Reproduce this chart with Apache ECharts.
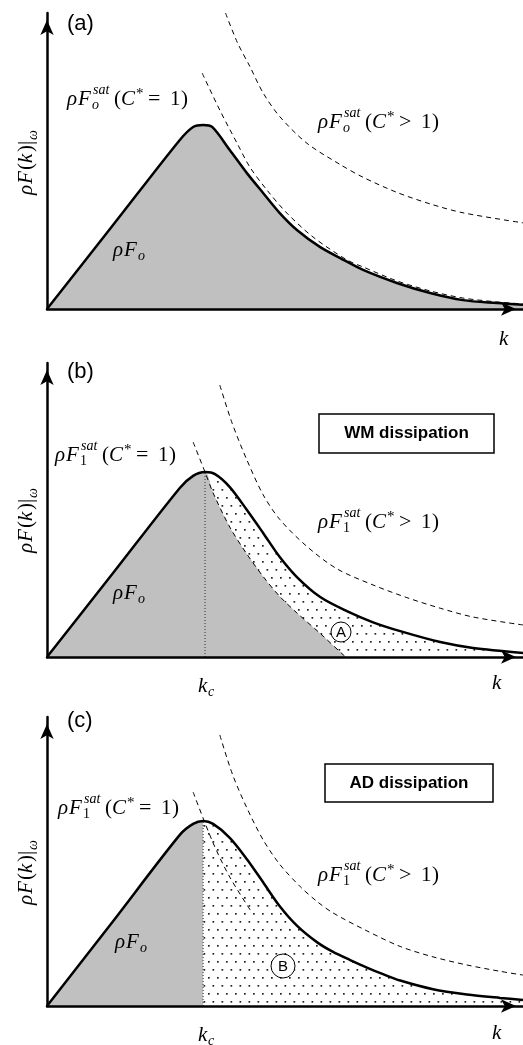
<!DOCTYPE html>
<html lang="en">
<head>
<meta charset="UTF-8" />
<title>Saturated spectra</title>
<style>html,body{margin:0;padding:0;background:#fff}#main{width:523px;height:1045px}</style>
</head>
<body>
<div id="main"></div>
<script src="https://cdn.jsdelivr.net/npm/echarts@6/dist/echarts.min.js"></script>
<script>
// k axis 0..10, rho F axis 0..10 (arbitrary units, schematic)
// panel (a)
const mainA = [[0,0],[1.4,2.86],[2.79,5.71],[3.07,6.15],[3.28,6.22],[3.47,6.15],[3.84,5.37],[4.20,4.59],[4.54,3.92],[4.89,3.24],[5.25,2.67],[5.74,2.09],[6.16,1.72],[6.64,1.32],[7.35,0.88],[8.05,0.54],[8.74,0.30],[9.45,0.20],[10,0.14]]
const satA1 = [[3.26,7.97],[3.63,6.72],[3.99,5.61],[4.26,4.80],[4.62,4.02],[5.04,3.24],[5.59,2.43],[6.30,1.66],[6.64,1.42],[7.35,0.95],[8.05,0.61],[8.74,0.37],[9.45,0.24],[10,0.17]]
const satA2 = [[3.75,10.0],[4.0,9.0],[4.26,8.2],[4.54,7.3],[4.89,6.5],[5.46,5.6],[6.16,4.88],[6.64,4.45],[7.35,3.94],[8.05,3.55],[8.74,3.25],[10,2.91]]
// panel (b)
const KC_B = 3.32
const mainB = [[0,0],[1.4,2.88],[2.79,5.75],[3.07,6.16],[3.32,6.29],[3.53,6.22],[3.84,5.78],[4.20,5.0],[4.54,4.22],[4.89,3.40],[5.25,2.72],[5.74,2.04],[6.30,1.56],[6.85,1.18],[7.42,0.88],[8.26,0.51],[8.95,0.31],[10,0.14]]
const satB1 = [[3.07,7.31],[3.32,6.29],[3.49,5.58],[3.84,4.42],[4.20,3.50],[4.54,2.74],[4.89,2.06],[5.25,1.50],[5.74,0.80],[6.22,0.08],[6.28,0]]
const satB2 = [[3.63,9.25],[3.89,7.95],[4.20,6.7],[4.54,5.52],[4.89,4.68],[5.46,3.76],[6.09,3.0],[6.85,2.45],[7.56,2.02],[8.26,1.66],[8.95,1.36],[10,1.09]]
// panel (c)
const KC_C = 3.28
const mainC = [[0,0],[1.4,2.96],[2.79,5.92],[3.07,6.30],[3.28,6.40],[3.49,6.30],[3.84,5.82],[4.20,5.08],[4.54,4.28],[4.89,3.45],[5.25,2.78],[5.67,2.21],[6.01,1.87],[6.37,1.59],[6.72,1.33],[7.06,1.10],[7.42,0.88],[8.11,0.58],[8.82,0.40],[9.52,0.28],[10,0.21]]
const satC1 = [[3.07,7.40],[3.49,5.64],[3.84,4.46],[4.31,3.22]]
const satC2 = [[3.63,9.38],[3.9,8.0],[4.20,6.85],[4.54,5.75],[4.89,4.9],[5.32,4.13],[5.67,3.62],[6.01,3.22],[6.72,2.6],[7.42,2.06],[8.11,1.7],[8.82,1.42],[9.52,1.2],[10,1.07]]

const GRAY = '#c0c0c0'
const grids = [
  { left: 47, top: 13, width: 476, height: 296 },
  { left: 47, top: 363, width: 476, height: 294 },
  { left: 47, top: 717, width: 476, height: 289 }
]

// dotted fill pattern
function dots() {
  const c = document.createElement('canvas')
  c.width = 9; c.height = 16
  const g = c.getContext('2d')
  g.fillStyle = '#222'
  g.fillRect(1, 1, 1.7, 1.7)
  g.fillRect(5.5, 9, 1.7, 1.7)
  return c
}
const DOTS = { image: dots(), repeat: 'repeat' }

const axisLine = { onZero: false, lineStyle: { color: '#000', width: 2.5 }, symbol: ['none', 'arrow'], symbolSize: [10, 15], symbolOffset: [0, -7] }
function axis(i) {
  return { gridIndex: i, type: 'value', min: 0, max: 10, z: 10, axisLine: axisLine, axisTick: { show: false }, axisLabel: { show: false }, splitLine: { show: false } }
}

const dash = { color: '#000', width: 1, type: [5, 4] }
const solid = { color: '#000', width: 2.5 }
function line(g, data, opts) {
  return Object.assign({ type: 'line', xAxisIndex: g, yAxisIndex: g, data: data, showSymbol: false, symbol: 'none', silent: true }, opts)
}

const grayB = mainB.filter(p => p[0] <= KC_B).concat(satB1.filter(p => p[0] > KC_B))
const grayC = mainC.filter(p => p[0] <= KC_C).concat([[KC_C, 0]])

const series = [
  // (a)
  line(0, mainA, { smooth: 0.3, lineStyle: { opacity: 0 }, areaStyle: { color: GRAY, opacity: 1 } }),
  line(0, satA1, { smooth: 0.3, lineStyle: dash }),
  line(0, satA2, { smooth: 0.3, lineStyle: dash }),
  line(0, mainA, { smooth: 0.3, lineStyle: solid }),
  // (b)
  line(1, mainB, { smooth: 0.3, lineStyle: { opacity: 0 }, areaStyle: { color: DOTS, opacity: 1 } }),
  line(1, grayB, { smooth: 0.3, lineStyle: { opacity: 0 }, areaStyle: { color: GRAY, opacity: 1 } }),
  line(1, satB1, { smooth: 0.3, lineStyle: dash }),
  line(1, satB2, { smooth: 0.3, lineStyle: dash }),
  line(1, [[KC_B, 0], [KC_B, 6.29]], { lineStyle: { color: '#333', width: 1, type: [1, 2] } }),
  line(1, mainB, { smooth: 0.3, lineStyle: solid }),
  // (c)
  line(2, mainC, { smooth: 0.3, lineStyle: { opacity: 0 }, areaStyle: { color: DOTS, opacity: 1 } }),
  line(2, grayC, { lineStyle: { opacity: 0 }, areaStyle: { color: GRAY, opacity: 1 } }),
  line(2, satC1, { smooth: 0.3, lineStyle: dash }),
  line(2, satC2, { smooth: 0.3, lineStyle: dash }),
  line(2, [[KC_C, 0], [KC_C, 6.40]], { lineStyle: { color: '#333', width: 1, type: [1, 2] } }),
  line(2, mainC, { smooth: 0.3, lineStyle: solid })
]

// math labels: pieces [text, dx, dy, size, italic]
const SERIF = '"Liberation Serif", "DejaVu Serif", serif'
const SANS = '"Liberation Sans", Arial, sans-serif'
function mathLabel(x, y, pieces, rot) {
  return {
    type: 'group', x: x, y: y, rotation: rot || 0, z: 50,
    children: pieces.map(p => ({
      type: 'text', x: p[1], y: p[2], z: 50,
      style: { text: p[0], font: (p[4] ? 'italic ' : '') + p[3] + 'px ' + SERIF, fill: '#000', verticalAlign: 'middle', align: 'left' }
    }))
  }
}
function satLabel(x, y, sub, rel) {
  return mathLabel(x, y, [
    ['ρ', 0, 0, 21, true], ['F', 11, 0, 21, true],
    ['sat', 26, -9, 14, true], [sub, 25, 6, 14, sub !== '1'],
    ['(', 47, 0, 21, false], ['C', 54, 0, 21, true], ['*', 69, -5, 15, false],
    [rel, 81, 0, 22, false], ['1', 103, 0, 21, false], [')', 114, 0, 21, false]
  ])
}
function rhoFo(x, y) { return mathLabel(x, y, [['ρ', 0, 0, 21, true], ['F', 11, 0, 21, true], ['o', 25, 6, 14, true]]) }
function yLabel(y) {
  return mathLabel(26, y, [
    ['ρ', -35, 0, 21, true], ['F', -24, 0, 21, true], ['(', -10, 0, 21, false], ['k', -3, 0, 21, true],
    [')', 8, 0, 21, false], ['|', 15, 0, 21, false], ['ω', 20, 7, 14, true]
  ], Math.PI / 2)
}
function kLabel(x, y) { return mathLabel(x, y, [['k', -5, 0, 21, true]]) }
function kcLabel(x, y) { return mathLabel(x, y, [['k', -8, 0, 21, true], ['c', 2, 6, 14, true]]) }
function panelTag(y, t) {
  return { type: 'text', x: 67, y: y, z: 50, style: { text: t, font: '22px ' + SANS, fill: '#000', verticalAlign: 'middle' } }
}
function box(x, y, w, h, t) {
  return [
    { type: 'rect', z: 50, shape: { x: x, y: y, width: w, height: h }, style: { fill: '#fff', stroke: '#000', lineWidth: 1.5 } },
    { type: 'text', z: 51, x: x + w / 2, y: y + h / 2, style: { text: t, font: 'bold 17px ' + SANS, fill: '#000', align: 'center', verticalAlign: 'middle' } }
  ]
}
function circ(cx, cy, r, t) {
  return [
    { type: 'circle', z: 50, shape: { cx: cx, cy: cy, r: r }, style: { fill: '#fff', stroke: '#000', lineWidth: 1 } },
    { type: 'text', z: 51, x: cx, y: cy + 1, style: { text: t, font: '15px ' + SANS, fill: '#000', align: 'center', verticalAlign: 'middle' } }
  ]
}

const graphic = [
  panelTag(24, '(a)'), panelTag(372, '(b)'), panelTag(721, '(c)'),
  yLabel(160), yLabel(518), yLabel(870),
  satLabel(67, 99, 'o', '='), satLabel(318, 122, 'o', '>'), rhoFo(113, 250), kLabel(504, 339),
  satLabel(55, 455, '1', '='), satLabel(318, 522, '1', '>'), rhoFo(113, 593), kcLabel(206, 686), kLabel(497, 683),
  satLabel(58, 808, '1', '='), satLabel(318, 875, '1', '>'), rhoFo(115, 942), kcLabel(206, 1035), kLabel(497, 1033)
].concat(box(319, 414, 175, 39, 'WM dissipation'), box(325, 764, 168, 38, 'AD dissipation'),
  circ(341, 632, 10, 'A'), circ(283, 966, 12, 'B'))

const chart = echarts.init(document.getElementById('main'))
chart.setOption({
  animation: false,
  grid: grids,
  xAxis: grids.map((g, i) => axis(i)),
  yAxis: grids.map((g, i) => axis(i)),
  series: series,
  graphic: graphic
})
</script>
</body>
</html>
